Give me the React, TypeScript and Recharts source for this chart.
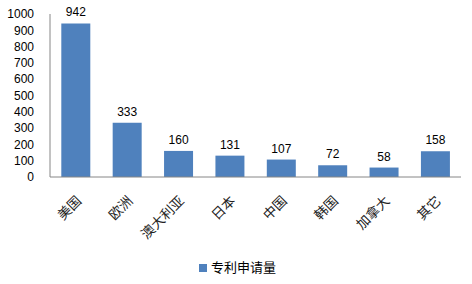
import { Bar, BarChart, LabelList, Legend, XAxis, YAxis } from "recharts";

const categories = ["美国", "欧洲", "澳大利亚", "日本", "中国", "韩国", "加拿大", "其它"];
const applications = [942, 333, 160, 131, 107, 72, 58, 158];
const yTicks = [0, 100, 200, 300, 400, 500, 600, 700, 800, 900, 1000];

const data = categories.map((name, i) => ({ name, value: applications[i] }));

const CategoryTick = (props: any) => {
  const { x, y, payload } = props;
  return (
    <g transform={`translate(${x + 4},${y + 14})`}>
      <text
        transform="rotate(-45)"
        textAnchor="end"
        dominantBaseline="middle"
        fill="#222"
        fontSize={13.5}
        fontFamily="'Noto Sans CJK SC', sans-serif"
      >
        {payload.value}
      </text>
    </g>
  );
};

export default function App() {
  return (
    <div style={{ position: "absolute", left: 0, top: 0, width: 472, height: 284, background: "#fff" }}>
      <BarChart
        width={472}
        height={284}
        data={data}
        margin={{ top: 14, right: 11, left: 0, bottom: 8 }}
        barCategoryGap="22%"
      >
        <XAxis
          dataKey="name"
          interval={0}
          height={80}
          tickLine={false}
          axisLine={{ stroke: "#868686" }}
          tick={<CategoryTick />}
        />
        <YAxis
          domain={[0, 1000]}
          ticks={yTicks}
          interval={0}
          width={50}
          tickLine={false}
          axisLine={{ stroke: "#868686" }}
          tick={{ fill: "#000", fontSize: 12, fontFamily: "'Liberation Sans', Arial, sans-serif" }}
          tickMargin={10}
        />
        <Legend
          verticalAlign="bottom"
          align="center"
          iconType="square"
          iconSize={8}
          wrapperStyle={{ paddingLeft: 24, boxSizing: "border-box" }}
          formatter={(v: string) => (
            <span style={{ color: "#000", fontSize: 13, fontFamily: "'Noto Sans CJK SC', sans-serif" }}>{v}</span>
          )}
        />
        <Bar dataKey="value" name="专利申请量" fill="#4F81BD" isAnimationActive={false}>
          <LabelList
            dataKey="value"
            position="top"
            offset={7}
            fill="#000"
            fontSize={12}
            fontFamily="'Liberation Sans', Arial, sans-serif"
          />
        </Bar>
      </BarChart>
    </div>
  );
}
